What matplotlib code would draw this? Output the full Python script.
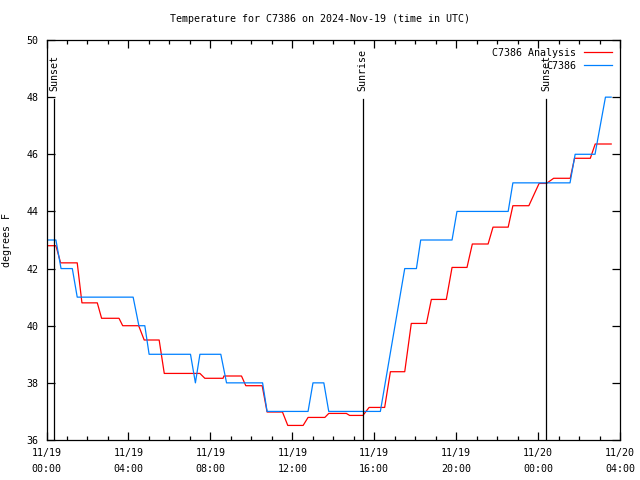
import matplotlib
matplotlib.use("Agg")
import matplotlib.pyplot as plt

# hours since 2024-11-19 00:00 UTC
obs_hours = [0.0, 0.46, 0.71, 1.26, 1.50, 4.23, 4.51, 4.80, 5.01, 7.03, 7.27, 7.49,
             8.51, 8.79, 10.55, 10.77, 12.77, 13.01, 13.54, 13.78, 16.30, 17.49,
             18.06, 18.27, 19.80, 20.04, 22.54, 22.77, 25.56, 25.81, 26.78, 27.29, 27.57]
obs_temp = [43.0, 43.0, 42.0, 42.0, 41.0, 41.0, 40.0, 40.0, 39.0, 39.0, 38.0, 39.0,
            39.0, 38.0, 38.0, 37.0, 37.0, 38.0, 38.0, 37.0, 37.0, 42.0,
            42.0, 43.0, 43.0, 44.0, 44.0, 45.0, 45.0, 46.0, 46.0, 48.0, 48.0]

ana_hours = [0.0, 0.46, 0.69, 1.50, 1.73, 2.48, 2.69, 3.54, 3.72, 4.50, 4.77, 5.50,
             5.75, 7.49, 7.73, 8.62, 8.66, 9.52, 9.73, 10.53, 10.77, 11.52, 11.78,
             12.53, 12.77, 13.59, 13.78, 14.64, 14.80, 15.45, 15.75, 16.51, 16.79,
             17.49, 17.81, 18.55, 18.79, 19.52, 19.80, 20.53, 20.79, 21.56, 21.80,
             22.54, 22.77, 23.55, 24.05, 24.41, 24.76, 25.57, 25.78, 26.55, 26.79, 27.57]
ana_temp = [42.8, 42.8, 42.2, 42.2, 40.8, 40.8, 40.26, 40.26, 40.0, 40.0, 39.5, 39.5,
            38.33, 38.33, 38.16, 38.16, 38.24, 38.24, 37.9, 37.9, 36.98, 36.98, 36.51,
            36.51, 36.79, 36.79, 36.93, 36.93, 36.86, 36.86, 37.14, 37.14, 38.39,
            38.39, 40.08, 40.08, 40.92, 40.92, 42.04, 42.04, 42.86, 42.86, 43.45,
            43.45, 44.2, 44.2, 44.98, 44.98, 45.16, 45.16, 45.86, 45.86, 46.36, 46.36]

sun_hours = [0.37, 15.44, 24.40]
sun_labels = ["Sunset", "Sunrise", "Sunset"]

xtick_hours = [0, 4, 8, 12, 16, 20, 24, 28]
xtick_labels = ["11/19\n00:00", "11/19\n04:00", "11/19\n08:00", "11/19\n12:00",
                "11/19\n16:00", "11/19\n20:00", "11/20\n00:00", "11/20\n04:00"]
yticks = [36, 38, 40, 42, 44, 46, 48, 50]

plt.rcParams['font.family'] = ['DejaVu Sans Mono']
plt.rcParams['font.size'] = 7.2

fig = plt.figure(figsize=(6.4, 4.8), dpi=100)
ax = fig.add_axes([46.5 / 640, 40 / 480, 573.5 / 640, 400 / 480])

ax.plot(ana_hours, ana_temp, color='#ff0000', lw=0.9, label='C7386 Analysis')
ax.plot(obs_hours, obs_temp, color='#0080ff', lw=0.9, label='C7386')

for h, lab in zip(sun_hours, sun_labels):
    ax.plot([h, h], [36, 47.95], color='black', lw=0.9)
    ax.text(h, 48.2, lab, rotation=90, ha='center', va='bottom')

ax.set_xlim(0, 28)
ax.set_ylim(36, 50)
ax.set_xticks(xtick_hours)
ax.set_xticklabels(xtick_labels, linespacing=1.7)
ax.set_xticks(range(0, 29), minor=True)
ax.set_yticks(yticks)
ax.tick_params(which='major', direction='in', length=6, width=0.9,
               top=True, right=True, pad=6)
ax.tick_params(which='minor', direction='in', length=3, width=0.9,
               top=True, right=True)
for s in ax.spines.values():
    s.set_linewidth(0.9)

ax.set_ylabel('degrees F', labelpad=10)
fig.text(0.5, 1 - 19 / 480, 'Temperature for C7386 on 2024-Nov-19 (time in UTC)',
         ha='center', va='center')

ax.legend(loc='upper right', bbox_to_anchor=(1.0, 1.0), markerfirst=False,
          frameon=False, handlelength=2.8, labelspacing=0.3, borderaxespad=0.6,
          borderpad=0.2, handletextpad=0.8)

fig.savefig('out.png', dpi=100)
